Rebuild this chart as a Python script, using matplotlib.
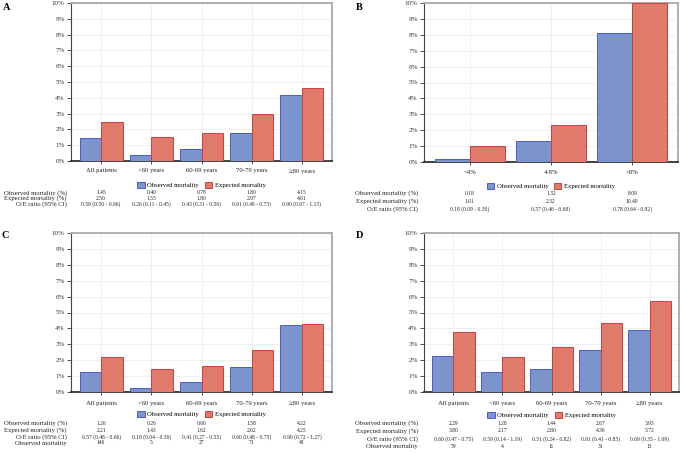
import matplotlib
matplotlib.use('Agg')
import matplotlib.pyplot as plt
from matplotlib.patches import Patch
import matplotlib.transforms as mtransforms

plt.rcParams['font.family'] = ['Liberation Serif', 'DejaVu Serif']

# data
age_groups = ['All patients', '<60 years', '60-69 years', '70-79 years', '≥80 years']
risk_groups = ['<4%', '4-8%', '>8%']

a_obs = [1.45, 0.40, 0.78, 1.80, 4.15]
a_exp = [2.50, 1.53, 1.80, 2.97, 4.61]
a_oe = ['0.58 (0.50 - 0.66)', '0.26 (0.11 - 0.45)', '0.43 (0.31 - 0.56)',
        '0.61 (0.49 - 0.73)', '0.90 (0.67 - 1.13)']

b_obs = [0.18, 1.32, 8.09]
b_exp = [1.01, 2.32, 10.40]
b_oe = ['0.18 (0.09 - 0.30)', '0.57 (0.46 - 0.68)', '0.78 (0.64 - 0.92)']

c_obs = [1.26, 0.26, 0.66, 1.58, 4.22]
c_exp = [2.21, 1.43, 1.62, 2.62, 4.25]
c_oe = ['0.57 (0.48 - 0.66)', '0.18 (0.04 - 0.36)', '0.41 (0.27 - 0.55)',
        '0.60 (0.48 - 0.75)', '0.99 (0.72 - 1.27)']
c_n = ['146', '5', '27', '71', '43']

d_obs = [2.29, 1.28, 1.44, 2.67, 3.93]
d_exp = [3.80, 2.17, 2.80, 4.36, 5.72]
d_oe = ['0.60 (0.47 - 0.75)', '0.59 (0.14 - 1.19)', '0.51 (0.24 - 0.82)',
        '0.61 (0.41 - 0.85)', '0.69 (0.35 - 1.09)']
d_n = ['59', '4', '11', '31', '13']

W, H = 685, 453
blue, blue_edge = '#7b94cc', '#4b5bcc'
red, red_edge = '#e07b6c', '#cc3f3f'

fig = plt.figure(figsize=(W / 100, H / 100), dpi=100)


def fy(py):
    return 1 - py / H


def panel(letter, box, cats, obs, exp, oe, n_obs, ylab, yleg, yrows, xletter, yletter, xrowlab):
    left, top, right, bottom = box
    ax = fig.add_axes([left / W, fy(bottom), (right - left) / W, (bottom - top) / H])
    nc = len(cats)
    x = list(range(nc))
    cw = (right - left) / (nc + 0.2)
    pad = 5 / cw
    bw = 0.43
    ax.bar([i - bw / 2 for i in x], [min(v, 10) for v in obs], bw, color=blue,
           edgecolor=blue_edge, linewidth=0.7, zorder=3)
    ax.bar([i + bw / 2 for i in x], [min(v, 10) for v in exp], bw, color=red,
           edgecolor=red_edge, linewidth=0.7, zorder=3)
    ax.set_xlim(-0.5 - pad, nc - 0.5 + pad)
    ax.set_ylim(0, 10)
    ax.set_yticks(range(11))
    ax.set_yticklabels([f'{v}%' for v in range(11)], fontsize=5, color='#333333')
    ax.set_xticks(x)
    ax.set_xticklabels([])
    ax.grid(True, color='#ececec', linewidth=0.6, zorder=0)
    ax.tick_params(axis='y', length=3, width=0.6, color='#333333', pad=1.5)
    ax.tick_params(axis='x', length=2, width=0.6, color='#333333')
    ax.spines['left'].set_color('#444444')
    ax.spines['left'].set_linewidth(0.8)
    ax.spines['bottom'].set_color('#333333')
    ax.spines['bottom'].set_linewidth(1.3)
    for s in ['top', 'right']:
        ax.spines[s].set_color('#aaaaaa')
        ax.spines[s].set_linewidth(1.3)

    trans = mtransforms.blended_transform_factory(ax.transData, fig.transFigure)
    for i, c in enumerate(cats):
        fig.text(i, fy(ylab), c, transform=trans, ha='center', va='center',
                 fontsize=4.8, color='#222222')

    handles = [Patch(facecolor=blue, edgecolor=blue_edge, linewidth=0.7, label='Observed mortality'),
               Patch(facecolor=red, edgecolor=red_edge, linewidth=0.7, label='Expected mortality')]
    fig.legend(handles=handles, loc='center',
               bbox_to_anchor=((left + right) / 2 / W, fy(yleg)), ncol=2, frameon=False,
               fontsize=4.8, handlelength=1.1, handleheight=1.1, handletextpad=0.4,
               columnspacing=0.8, borderpad=0)

    rows = [('Observed mortality (%)', [f'{v:.2f}' for v in obs]),
            ('Expected mortality (%)', [f'{v:.2f}' for v in exp]),
            ('O/E ratio (95% CI)', oe)]
    if n_obs is not None:
        rows.append(('Observed mortality', n_obs))
    for (lab, vals), ry in zip(rows, yrows):
        fig.text(xrowlab / W, fy(ry), lab, ha='right', va='center', fontsize=4.8, color='#222222')
        for i, v in enumerate(vals):
            fig.text(i, fy(ry), v, transform=trans, ha='center', va='center',
                     fontsize=4, color='#222222')

    fig.text(xletter / W, fy(yletter), letter, ha='left', va='center', fontsize=7.5,
             fontweight='bold')


panel('A', (71, 3, 332, 161), age_groups, a_obs, a_exp, a_oe, None,
      171, 185, [193, 198.5, 204], 3, 8, 67)
panel('B', (424, 3, 678, 162), risk_groups, b_obs, b_exp, b_oe, None,
      172, 186, [193.5, 201.3, 209.3], 356, 8, 418)
panel('C', (71, 233, 332, 392), age_groups, c_obs, c_exp, c_oe, c_n,
      403, 414, [423.3, 430, 436.7, 443], 1, 236, 67)
panel('D', (424, 233, 679, 392), age_groups, d_obs, d_exp, d_oe, d_n,
      403, 415, [423.3, 431, 438.7, 446.7], 356, 236, 418)

fig.savefig('out.png', dpi=100)
